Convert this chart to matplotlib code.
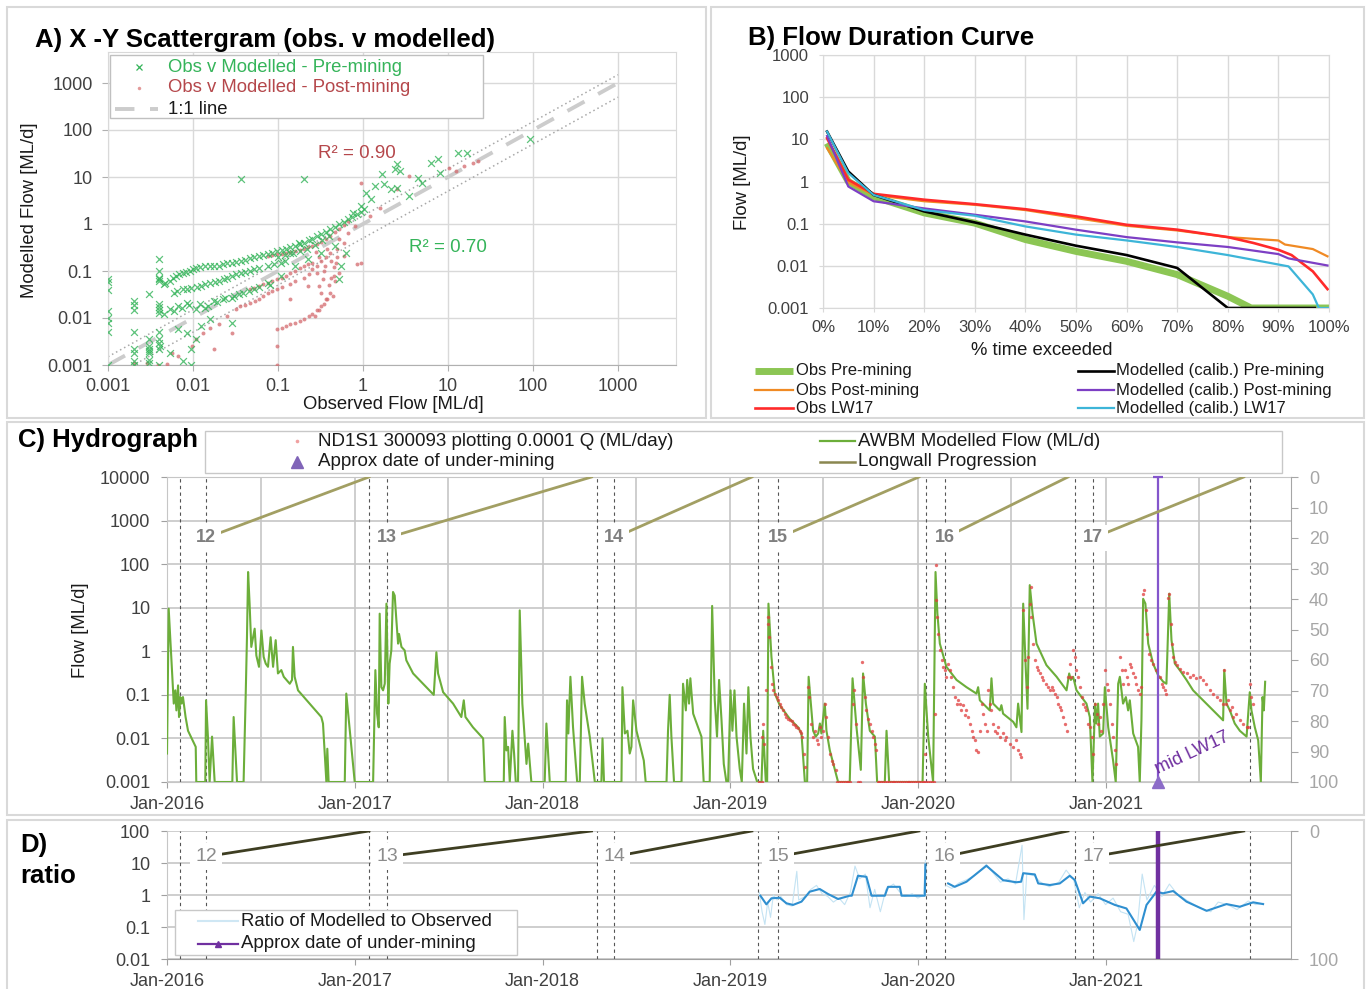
import datetime as dt
import numpy as np
import matplotlib
matplotlib.use("Agg")
import matplotlib.pyplot as plt
import matplotlib.dates as mdates
from matplotlib.lines import Line2D
from matplotlib.patches import Rectangle
from matplotlib.ticker import FixedLocator, FuncFormatter, NullLocator

plt.rcParams["font.family"] = ["Liberation Sans", "DejaVu Sans"]

# ------------------------------------------------------------------
# A) observed vs modelled daily flow (ML/d)
# ------------------------------------------------------------------
pre_obs = [0.001, 0.001, 0.001, 0.001, 0.001, 0.001, 0.001, 0.001,
           0.002, 0.002, 0.002, 0.002, 0.002, 0.002, 0.002, 0.002,
           0.003, 0.003, 0.003, 0.003, 0.003, 0.003, 0.003, 0.003,
           0.004, 0.004, 0.004, 0.004, 0.004, 0.004, 0.004, 0.004, 0.004,
           0.004, 0.004, 0.004, 0.004, 0.004,
           0.0047, 0.0053, 0.0063, 0.0076, 0.0091, 0.0109, 0.0139, 0.0177, 0.0225, 0.0287,
           0.0366, 0.0466, 0.0594, 0.0757, 0.0964, 0.123, 0.157, 0.20, 0.254, 0.324,
           0.413, 0.526, 0.67, 0.855, 1.03,
           0.0045, 0.0058, 0.0068, 0.0083, 0.0100, 0.012, 0.016, 0.020, 0.025, 0.032,
           0.041, 0.052, 0.067, 0.085, 0.11, 0.14, 0.18, 0.23, 0.29, 0.37,
           0.47, 0.60, 0.75, 0.95,
           0.10, 0.12, 0.15, 0.18, 0.22, 0.27, 0.33, 0.40,
           0.0059, 0.0076, 0.0096, 0.0123, 0.0157, 0.020, 0.0254, 0.0324, 0.0413, 0.0526,
           0.0757, 0.109, 0.139, 0.177,
           0.0065, 0.0085, 0.011, 0.014, 0.018, 0.023, 0.029, 0.037, 0.047, 0.060,
           0.090, 0.120,
           0.0053, 0.0067, 0.0086, 0.0109, 0.0139, 0.0177, 0.0225, 0.0287, 0.0388, 0.0526,
           0.0757, 0.109, 0.157, 0.225, 0.324, 0.466,
           0.0045, 0.0060, 0.0075, 0.0090, 0.012, 0.015, 0.019, 0.024, 0.030, 0.035,
           0.045, 0.060, 0.080,
           0.0067, 0.0086, 0.0109, 0.0096, 0.0076, 0.0053, 0.0041, 0.0123, 0.0157, 0.0287,
           0.0096, 0.558, 0.526, 0.63,
           0.76, 0.96, 1.09, 1.23, 1.39, 1.66, 1.77, 2.12, 2.39, 2.54, 2.70, 2.54, 3.44,
           4.38, 4.95, 6.3, 7.57, 8.0, 13.0, 16.6, 91, 0.0366, 0.2]
pre_mod = [0.001, 0.005, 0.008, 0.01, 0.014, 0.04, 0.057, 0.066,
           0.001, 0.0012, 0.0018, 0.0022, 0.005, 0.015, 0.019, 0.023,
           0.032, 0.0025, 0.0018, 0.0013, 0.0035, 0.0022, 0.002, 0.0011,
           0.18, 0.1, 0.066, 0.015, 0.013, 0.005, 0.001, 0.0022, 0.003,
           0.06, 0.07, 0.017, 0.02, 0.0035,
           0.0565, 0.0612, 0.078, 0.092, 0.10, 0.118, 0.128, 0.128, 0.139, 0.150,
           0.163, 0.192, 0.208, 0.226, 0.266, 0.299, 0.34, 0.40, 0.49, 0.60,
           0.77, 0.98, 1.26, 1.6, 2.05,
           0.052, 0.070, 0.085, 0.095, 0.11, 0.12, 0.125, 0.13, 0.145, 0.155,
           0.175, 0.20, 0.215, 0.24, 0.28, 0.32, 0.37, 0.45, 0.55, 0.68,
           0.88, 1.1, 1.4, 1.8,
           0.20, 0.22, 0.24, 0.26, 0.30, 0.36, 0.45, 0.55,
           0.0346, 0.0407, 0.0442, 0.048, 0.0565, 0.0612, 0.0721, 0.0849, 0.0953, 0.108,
           0.128, 0.150, 0.245, 0.40,
           0.038, 0.042, 0.046, 0.052, 0.058, 0.066, 0.078, 0.090, 0.10, 0.115,
           0.14, 0.16,
           0.0153, 0.018, 0.0212, 0.0153, 0.0166, 0.023, 0.0249, 0.0271, 0.0346, 0.0407,
           0.0565, 0.078, 0.128, 0.177, 0.245, 0.34,
           0.012, 0.014, 0.016, 0.019, 0.020, 0.018, 0.022, 0.026, 0.030, 0.032,
           0.037, 0.045, 0.050,
           0.0057, 0.0049, 0.0035, 0.0022, 0.0012, 0.0018, 0.0025, 0.0068, 0.0094, 0.008,
           0.001, 0.128, 0.066, 0.245,
           1.74, 2.4, 4.6, 3.35, 6.4, 11.4, 7.0, 5.5, 14.6, 18.6, 13.4, 5.9, 3.9,
           9.7, 7.6, 20.2, 23.8, 12.4, 33, 32, 63, 8.9, 8.9]

post_obs = [0.002, 0.00287, 0.0039, 0.005, 0.0056, 0.0067, 0.00964, 0.0109, 0.0131, 0.0157,
            0.020, 0.0254, 0.0324, 0.0466, 0.0594, 0.0757, 0.0964, 0.139, 0.20, 0.254,
            0.324, 0.413, 0.526, 0.67,
            0.0757, 0.0964, 0.123, 0.157, 0.20, 0.254, 0.324, 0.413, 0.526, 0.67,
            0.085, 0.11, 0.14, 0.18, 0.225, 0.29, 0.37, 0.47, 0.60,
            0.0964, 0.123, 0.157, 0.20, 0.254, 0.324, 0.413, 0.526, 0.59,
            0.11, 0.14, 0.18, 0.23, 0.29, 0.37, 0.47,
            0.0466, 0.0594, 0.0757, 0.0964, 0.123, 0.157, 0.20, 0.254, 0.288, 0.305,
            0.324, 0.34, 0.36, 0.227, 0.139, 0.0287, 0.0177,
            0.052, 0.067, 0.085, 0.11, 0.14, 0.18, 0.225,
            0.036, 0.041, 0.053, 0.067, 0.085, 0.11, 0.16, 0.23, 0.29, 0.37,
            0.40, 0.45, 0.48, 0.50, 0.44, 0.38, 0.30, 0.27, 0.35, 0.42,
            0.30, 0.38, 0.45, 0.50, 0.42, 0.35, 0.28, 0.80, 1.20, 0.60,
            0.96, 0.96, 0.855, 0.0964, 0.0964, 2.54, 3.44, 10.2, 12.3, 15.6, 19.9, 22.3, 1.57]
post_mod = [0.00112, 0.00112, 0.001, 0.00103, 0.0018, 0.00155, 0.0025, 0.0035, 0.0049, 0.0062,
            0.0073, 0.011, 0.0153, 0.0212, 0.0249, 0.0346, 0.0407, 0.052, 0.0721, 0.108,
            0.163, 0.245, 0.47, 0.65,
            0.208, 0.226, 0.245, 0.267, 0.30, 0.34, 0.414, 0.556, 0.77, 1.16,
            0.215, 0.235, 0.255, 0.285, 0.32, 0.38, 0.48, 0.66, 0.95,
            0.0057, 0.0068, 0.008, 0.0094, 0.012, 0.018, 0.0346, 0.092, 0.208,
            0.0062, 0.0073, 0.0087, 0.011, 0.015, 0.025, 0.06,
            0.0407, 0.048, 0.0565, 0.0665, 0.078, 0.10, 0.128, 0.15, 0.092, 0.048,
            0.0346, 0.066, 0.128, 0.048, 0.025, 0.0049, 0.0022,
            0.044, 0.052, 0.061, 0.072, 0.09, 0.115, 0.14,
            0.018, 0.019, 0.023, 0.030, 0.038, 0.045, 0.060, 0.085, 0.13, 0.20,
            0.05, 0.08, 0.15, 0.20, 0.03, 0.025, 0.015, 0.011, 0.10, 0.16,
            0.20, 0.30, 0.12, 0.30, 0.07, 0.02, 0.25, 0.90, 1.50, 0.40,
            7.6, 0.15, 0.139, 0.0025, 0.001, 5.65, 10.5, 15.8, 13.4, 17.2, 20.2, 21.9, 2.18]

one_to_one = [0.001, 1000]
r2_post_label = "R\u00b2 = 0.90"
r2_pre_label = "R\u00b2 = 0.70"

# ------------------------------------------------------------------
# B) flow duration curves (% of time exceeded, ML/d)
# ------------------------------------------------------------------
fdc_obs_pre_pct = [0.8, 5, 10, 20, 30, 40, 50, 60, 70, 80, 84.6, 100]
fdc_obs_pre = [8.1, 1.0, 0.44, 0.18, 0.103, 0.042, 0.022, 0.0128, 0.0062, 0.0019, 0.001, 0.001]
fdc_obs_post_pct = [0.8, 5, 10, 20, 30, 40, 50, 60, 70, 80, 90, 91.3, 96.8, 99.7]
fdc_obs_post = [6.2, 0.95, 0.48, 0.34, 0.28, 0.21, 0.136, 0.089, 0.069, 0.048, 0.040, 0.032, 0.025, 0.0168]
fdc_obs_lw17_pct = [0.8, 5, 10, 20, 30, 40, 50, 60, 70, 80, 85, 90, 92.6, 96.8, 99.7]
fdc_obs_lw17 = [10.6, 1.1, 0.51, 0.37, 0.29, 0.22, 0.149, 0.094, 0.072, 0.048, 0.035, 0.024, 0.018, 0.0074, 0.0028]
fdc_mod_pre_pct = [0.8, 5, 10, 20, 30, 40, 50, 60, 70, 80, 97.2]
fdc_mod_pre = [15.3, 1.73, 0.48, 0.195, 0.107, 0.055, 0.030, 0.018, 0.0089, 0.001, 0.001]
fdc_mod_post_pct = [0.8, 5, 10, 20, 30, 40, 50, 60, 70, 80, 90, 92, 99.7]
fdc_mod_post = [12, 0.76, 0.34, 0.23, 0.163, 0.113, 0.072, 0.048, 0.036, 0.028, 0.019, 0.015, 0.0102]
fdc_mod_lw17_pct = [0.8, 5, 10, 20, 30, 40, 50, 60, 70, 80, 92, 96.8, 98, 100]
fdc_mod_lw17 = [15.3, 1.58, 0.48, 0.21, 0.154, 0.086, 0.055, 0.040, 0.028, 0.018, 0.0097, 0.0021, 0.001, 0.001]

# ------------------------------------------------------------------
# C) hydrograph: (decimal year, ML/d); zero flow is shown at 0.001
# ------------------------------------------------------------------
awbm_flow = [
    (2016.000, 0.0045), (2016.009, 9.5), (2016.023, 0.74), (2016.036, 0.063), (2016.044, 0.127),
    (2016.050, 0.044), (2016.059, 0.165), (2016.064, 0.031), (2016.071, 0.089), (2016.078, 0.063),
    (2016.085, 0.089), (2016.099, 0.031), (2016.112, 0.015), (2016.153, 0.0064), (2016.156, 0.001),
    (2016.204, 0.001), (2016.208, 0.075), (2016.218, 0.011), (2016.227, 0.001), (2016.240, 0.011),
    (2016.254, 0.001), (2016.348, 0.001), (2016.355, 0.031), (2016.373, 0.001), (2016.408, 0.001),
    (2016.414, 0.011), (2016.419, 0.089), (2016.426, 2.1), (2016.432, 66), (2016.440, 12.4),
    (2016.449, 1.26), (2016.467, 3.3), (2016.476, 0.8), (2016.490, 0.44), (2016.503, 3.0),
    (2016.515, 0.74), (2016.526, 0.52), (2016.538, 0.44), (2016.552, 2.1), (2016.565, 0.44),
    (2016.579, 1.8), (2016.591, 0.31), (2016.609, 0.37), (2016.622, 0.26), (2016.654, 0.18),
    (2016.666, 0.22), (2016.671, 1.26), (2016.680, 0.26), (2016.698, 0.127), (2016.760, 0.063),
    (2016.822, 0.031), (2016.831, 0.022), (2016.849, 0.001), (2016.854, 0.0058), (2016.861, 0.001),
    (2016.947, 0.001), (2016.955, 0.107), (2016.977, 0.011), (2017.000, 0.001), (2017.098, 0.001),
    (2017.103, 0.011), (2017.110, 0.37), (2017.119, 0.037), (2017.128, 0.018), (2017.133, 7.3),
    (2017.142, 0.15), (2017.151, 0.127), (2017.160, 0.18), (2017.169, 12.4), (2017.179, 0.063),
    (2017.186, 0.52), (2017.195, 1.05), (2017.204, 23), (2017.213, 19), (2017.222, 5.1),
    (2017.231, 1.5), (2017.236, 2.5), (2017.249, 1.26), (2017.266, 1.05), (2017.275, 0.62),
    (2017.311, 0.31), (2017.382, 0.15), (2017.421, 0.10), (2017.435, 0.95), (2017.444, 0.31),
    (2017.471, 0.115), (2017.524, 0.063), (2017.568, 0.031), (2017.581, 0.075), (2017.590, 0.031),
    (2017.630, 0.018), (2017.684, 0.010), (2017.693, 0.001),
    (2017.794, 0.001), (2017.799, 0.031), (2017.808, 0.0053), (2017.817, 0.0064), (2017.826, 0.001),
    (2017.840, 0.015), (2017.849, 0.0045), (2017.858, 0.001), (2017.870, 0.001), (2017.879, 8.7),
    (2017.893, 0.063), (2017.915, 0.0026), (2017.924, 0.0076), (2017.941, 0.001), (2018.012, 0.001),
    (2018.021, 0.022), (2018.039, 0.001), (2018.124, 0.001), (2018.131, 0.075), (2018.138, 0.013),
    (2018.149, 0.26), (2018.163, 0.018), (2018.185, 0.001), (2018.199, 0.001), (2018.211, 0.26),
    (2018.225, 0.063), (2018.252, 0.011), (2018.279, 0.001), (2018.314, 0.001), (2018.320, 0.010),
    (2018.328, 0.001), (2018.421, 0.001), (2018.426, 0.15), (2018.439, 0.013), (2018.453, 0.015),
    (2018.465, 0.0045), (2018.474, 0.0064), (2018.483, 0.075), (2018.501, 0.015), (2018.540, 0.0031),
    (2018.550, 0.001), (2018.661, 0.001), (2018.669, 0.015), (2018.678, 0.10), (2018.687, 0.011),
    (2018.701, 0.001), (2018.741, 0.001), (2018.749, 0.18), (2018.764, 0.044), (2018.771, 0.22),
    (2018.781, 0.063), (2018.788, 0.24), (2018.803, 0.037), (2018.847, 0.011), (2018.859, 0.001),
    (2018.891, 0.001), (2018.904, 11), (2018.918, 0.075), (2018.930, 0.011), (2018.941, 0.22),
    (2018.954, 0.026), (2018.966, 0.0026), (2018.980, 0.001), (2018.989, 0.001), (2019.002, 0.127),
    (2019.012, 0.015), (2019.023, 0.127), (2019.034, 0.011), (2019.051, 0.002), (2019.062, 0.001),
    (2019.074, 0.063), (2019.087, 0.0045), (2019.097, 0.15), (2019.108, 0.011), (2019.122, 0.002),
    (2019.144, 0.001), (2019.167, 0.001), (2019.176, 0.015), (2019.190, 0.001), (2019.197, 0.001),
    (2019.204, 12.4), (2019.220, 0.74), (2019.238, 0.107), (2019.264, 0.058), (2019.318, 0.028),
    (2019.362, 0.018), (2019.380, 0.013), (2019.398, 0.001), (2019.410, 0.001),
    (2019.418, 0.26), (2019.430, 0.063), (2019.442, 0.015), (2019.456, 0.011), (2019.469, 0.013),
    (2019.478, 0.022), (2019.486, 0.013), (2019.504, 0.063), (2019.513, 0.015), (2019.531, 0.0053),
    (2019.575, 0.001), (2019.637, 0.001), (2019.652, 0.24), (2019.673, 0.018), (2019.696, 0.0019),
    (2019.708, 0.31), (2019.723, 0.063), (2019.744, 0.015), (2019.771, 0.011), (2019.783, 0.001),
    (2019.824, 0.001), (2019.833, 0.015), (2019.847, 0.001), (2020.025, 0.001), (2020.037, 0.18),
    (2020.055, 0.011), (2020.081, 0.001), (2020.094, 66), (2020.104, 7.3), (2020.117, 1.5),
    (2020.152, 0.44), (2020.206, 0.22), (2020.259, 0.15), (2020.312, 0.107), (2020.321, 0.15),
    (2020.330, 0.075), (2020.383, 0.044), (2020.392, 0.24), (2020.401, 0.063), (2020.437, 0.044),
    (2020.445, 0.058), (2020.454, 0.037), (2020.508, 0.024), (2020.525, 0.018), (2020.534, 0.063),
    (2020.552, 0.014), (2020.561, 12.4), (2020.575, 0.37), (2020.584, 0.048), (2020.596, 33),
    (2020.611, 7.3), (2020.632, 1.5), (2020.685, 0.48), (2020.739, 0.26), (2020.792, 0.127),
    (2020.806, 0.31), (2020.815, 0.22), (2020.827, 0.26), (2020.845, 0.127), (2020.898, 0.063),
    (2020.916, 0.031),
    (2020.930, 0.001), (2020.944, 0.063), (2020.951, 0.022), (2020.960, 0.063), (2020.969, 0.011),
    (2020.987, 0.013), (2020.996, 0.15), (2021.014, 0.018), (2021.040, 0.0031), (2021.054, 0.001),
    (2021.067, 0.18), (2021.076, 0.26), (2021.093, 0.063), (2021.108, 0.089), (2021.120, 0.044),
    (2021.129, 0.075), (2021.147, 0.013), (2021.173, 0.0064), (2021.182, 0.001), (2021.191, 0.026),
    (2021.200, 16), (2021.212, 12.4), (2021.227, 1.5), (2021.253, 0.52), (2021.280, 0.28),
    (2021.307, 0.2), (2021.324, 0.18), (2021.339, 21), (2021.351, 1.8), (2021.369, 0.52),
    (2021.395, 0.37), (2021.431, 0.22), (2021.466, 0.127), (2021.502, 0.089), (2021.555, 0.053),
    (2021.626, 0.026), (2021.632, 0.37), (2021.644, 0.063), (2021.662, 0.044), (2021.688, 0.022),
    (2021.715, 0.015), (2021.751, 0.011), (2021.768, 0.115), (2021.777, 0.044), (2021.795, 0.018),
    (2021.813, 0.009), (2021.827, 0.001), (2021.836, 0.089), (2021.843, 0.044), (2021.850, 0.2)]

gauge_flow = [
    (2019.154, 0.001), (2019.167, 0.001), (2019.172, 0.011), (2019.176, 0.022), (2019.179, 0.0076),
    (2019.190, 0.127), (2019.200, 4.3), (2019.204, 6.1), (2019.208, 2.1), (2019.215, 0.44),
    (2019.222, 0.18), (2019.229, 0.127), (2019.238, 0.107), (2019.247, 0.089), (2019.256, 0.075),
    (2019.264, 0.063), (2019.273, 0.053), (2019.282, 0.044), (2019.291, 0.037), (2019.300, 0.031),
    (2019.309, 0.028), (2019.318, 0.027), (2019.327, 0.025), (2019.335, 0.022), (2019.344, 0.020),
    (2019.353, 0.018), (2019.362, 0.017), (2019.371, 0.015), (2019.380, 0.013), (2019.385, 0.011),
    (2019.392, 0.0045), (2019.398, 0.0022),
    (2019.414, 0.15), (2019.421, 0.089), (2019.433, 0.022), (2019.442, 0.011), (2019.451, 0.015),
    (2019.460, 0.009), (2019.469, 0.0076), (2019.478, 0.018), (2019.486, 0.011), (2019.495, 0.015),
    (2019.504, 0.063), (2019.510, 0.031), (2019.522, 0.011), (2019.531, 0.0045), (2019.540, 0.0031),
    (2019.549, 0.0026), (2019.563, 0.0019),
    (2019.570, 0.001), (2019.580, 0.001), (2019.590, 0.001), (2019.600, 0.001), (2019.610, 0.001),
    (2019.620, 0.001), (2019.630, 0.001), (2019.640, 0.001),
    (2019.652, 0.063), (2019.659, 0.127), (2019.673, 0.022), (2019.682, 0.001), (2019.691, 0.001),
    (2019.700, 0.57), (2019.708, 0.26), (2019.717, 0.089), (2019.726, 0.044), (2019.735, 0.028),
    (2019.744, 0.022), (2019.753, 0.015), (2019.762, 0.011), (2019.771, 0.0076), (2019.776, 0.0053),
    (2019.785, 0.001), (2019.795, 0.001), (2019.805, 0.001), (2019.815, 0.001), (2019.825, 0.001),
    (2019.835, 0.001), (2019.845, 0.001), (2019.855, 0.001), (2019.865, 0.001), (2019.875, 0.001),
    (2019.885, 0.001), (2019.895, 0.001), (2019.905, 0.001), (2019.915, 0.001), (2019.925, 0.001),
    (2019.935, 0.001), (2019.945, 0.001), (2019.955, 0.001), (2019.965, 0.001), (2019.975, 0.001),
    (2019.985, 0.001), (2019.995, 0.001), (2020.005, 0.001), (2020.015, 0.001), (2020.025, 0.001),
    (2020.035, 0.001), (2020.045, 0.001), (2020.055, 0.001), (2020.065, 0.001), (2020.075, 0.001),
    (2020.085, 0.001),
    (2020.037, 0.0045), (2020.090, 0.037), (2020.096, 14.8), (2020.099, 94), (2020.103, 6.1),
    (2020.108, 2.5), (2020.117, 1.05), (2020.126, 0.62), (2020.135, 0.44), (2020.144, 0.37),
    (2020.152, 0.26), (2020.161, 0.52), (2020.170, 0.37), (2020.179, 0.26), (2020.188, 0.15),
    (2020.197, 0.089), (2020.206, 0.063), (2020.215, 0.075), (2020.224, 0.063), (2020.232, 0.044),
    (2020.241, 0.058), (2020.250, 0.034), (2020.259, 0.044), (2020.268, 0.031), (2020.277, 0.022),
    (2020.286, 0.015), (2020.295, 0.011), (2020.303, 0.009), (2020.312, 0.0053), (2020.321, 0.005),
    (2020.330, 0.015), (2020.339, 0.063), (2020.348, 0.037), (2020.357, 0.022), (2020.366, 0.015),
    (2020.374, 0.127), (2020.383, 0.063), (2020.392, 0.044), (2020.401, 0.022), (2020.410, 0.015),
    (2020.419, 0.013), (2020.428, 0.018), (2020.437, 0.011), (2020.454, 0.013), (2020.463, 0.009),
    (2020.472, 0.011), (2020.490, 0.0076), (2020.508, 0.0064), (2020.525, 0.009), (2020.534, 0.0053),
    (2020.543, 0.0045), (2020.552, 0.0037), (2020.561, 8.7), (2020.570, 0.62), (2020.579, 0.15),
    (2020.588, 0.74), (2020.596, 12.4), (2020.600, 30), (2020.605, 6.1), (2020.614, 1.5),
    (2020.623, 0.62), (2020.632, 0.44), (2020.641, 0.37), (2020.650, 0.31), (2020.659, 0.26),
    (2020.667, 0.22), (2020.685, 0.18), (2020.694, 0.15), (2020.703, 0.127), (2020.712, 0.15),
    (2020.721, 0.127), (2020.730, 0.107), (2020.739, 0.089), (2020.747, 0.063), (2020.756, 0.053),
    (2020.765, 0.044), (2020.774, 0.031), (2020.783, 0.022), (2020.792, 0.015), (2020.801, 0.26),
    (2020.810, 0.52), (2020.818, 0.26), (2020.827, 1.05), (2020.836, 0.74), (2020.845, 0.37),
    (2020.854, 0.26), (2020.863, 0.15), (2020.872, 0.089), (2020.881, 0.063), (2020.890, 0.053),
    (2020.898, 0.044), (2020.907, 0.022), (2020.916, 0.018), (2020.925, 0.011), (2020.934, 0.0045),
    (2020.943, 0.063), (2020.952, 0.037), (2020.961, 0.022), (2020.969, 0.031), (2020.978, 0.015),
    (2020.987, 0.063), (2020.996, 0.37), (2021.005, 0.18), (2021.014, 0.127), (2021.023, 0.063),
    (2021.032, 0.022), (2021.041, 0.011), (2021.049, 0.0053), (2021.058, 0.0026), (2021.076, 0.74),
    (2021.085, 0.37), (2021.094, 0.18), (2021.103, 0.37), (2021.112, 0.26), (2021.121, 0.18),
    (2021.129, 0.52), (2021.138, 0.44), (2021.147, 0.31), (2021.156, 0.26), (2021.164, 0.18),
    (2021.173, 0.127), (2021.182, 0.107), (2021.191, 0.15), (2021.200, 21), (2021.205, 25),
    (2021.214, 8.7), (2021.221, 2.5), (2021.232, 0.88), (2021.244, 0.62), (2021.253, 0.52),
    (2021.271, 0.37), (2021.289, 0.26), (2021.298, 0.18), (2021.307, 0.15), (2021.315, 0.127),
    (2021.324, 0.107), (2021.333, 17), (2021.339, 21), (2021.346, 4.3), (2021.353, 1.5),
    (2021.360, 0.74), (2021.369, 0.57), (2021.378, 0.48), (2021.395, 0.40), (2021.413, 0.34),
    (2021.431, 0.31), (2021.449, 0.26), (2021.466, 0.28), (2021.484, 0.24), (2021.502, 0.26),
    (2021.520, 0.22), (2021.537, 0.18), (2021.555, 0.127), (2021.573, 0.107), (2021.591, 0.089),
    (2021.609, 0.075), (2021.626, 0.063), (2021.632, 0.37), (2021.644, 0.063), (2021.653, 0.075),
    (2021.662, 0.044), (2021.671, 0.053), (2021.680, 0.031), (2021.697, 0.037), (2021.715, 0.026),
    (2021.733, 0.022), (2021.751, 0.018), (2021.759, 0.018), (2021.768, 0.18), (2021.777, 0.089),
    (2021.786, 0.063)]

# longwall panels: extraction start / finish and progression (%)
lw_names = ["12", "13", "14", "15", "16", "17"]
lw_start = ["2016-03-17", "2017-03-04", "2018-05-20", "2019-04-04", "2020-02-22", "2020-12-07"]
lw_finish = ["2017-01-28", "2018-04-06", "2019-02-12", "2020-01-03", "2020-10-19", "2021-09-26"]
lw_start_pct = [20, 20, 20, 20, 20, 20]
lw_finish_pct = [0, 0, 0, 0, 0, 0]
lw_boundaries = ["2016-01-27", "2016-03-17", "2017-01-29", "2017-03-04", "2018-04-16",
                 "2018-05-20", "2019-02-24", "2019-04-04", "2020-01-17", "2020-02-22",
                 "2020-11-01", "2020-12-07", "2021-10-08"]
under_mining_date = "2021-04-13"

# ------------------------------------------------------------------
# D) ratio of modelled to observed flow (decimal year, ratio)
# ------------------------------------------------------------------
ratio_daily = [
    (2019.155, 1.2), (2019.170, 0.3), (2019.185, 0.12), (2019.200, 0.6), (2019.215, 0.2),
    (2019.230, 1.0), (2019.250, 0.7), (2019.270, 0.9), (2019.300, 0.5), (2019.330, 0.45),
    (2019.355, 5.5), (2019.365, 0.7), (2019.400, 0.9), (2019.430, 1.5), (2019.460, 2.0),
    (2019.490, 1.1), (2019.520, 0.9), (2019.550, 0.6), (2019.580, 0.8), (2019.610, 0.5),
    (2019.640, 1.2), (2019.665, 8.0), (2019.690, 3.2), (2019.720, 4.5), (2019.745, 0.4),
    (2019.770, 1.5), (2019.800, 0.3), (2019.830, 1.5), (2019.870, 2.2), (2019.900, 1.3),
    (2019.930, 0.9), (2019.970, 1.1), (2020.000, 0.8), (2020.030, 1.0), (2020.040, 12),
    (2020.100, np.nan),
    (2020.150, 2.0), (2020.180, 1.6), (2020.220, 2.4), (2020.260, 3.0), (2020.300, 4.0),
    (2020.340, 6.5), (2020.365, 9.0), (2020.400, 5.0), (2020.440, 2.5), (2020.480, 3.2),
    (2020.520, 2.2), (2020.555, 36), (2020.565, 0.17), (2020.580, 4.5), (2020.620, 4.0),
    (2020.650, 2.6), (2020.700, 1.8), (2020.750, 2.5), (2020.790, 6.0), (2020.830, 3.0),
    (2020.860, 0.4), (2020.890, 1.2), (2020.920, 0.6), (2020.960, 1.1), (2021.000, 0.5),
    (2021.040, 0.8), (2021.080, 0.3), (2021.120, 0.25), (2021.150, 0.035), (2021.170, 0.12),
    (2021.195, 4.5), (2021.220, 0.7), (2021.260, 2.0), (2021.300, 0.9), (2021.340, 2.2),
    (2021.380, 1.1), (2021.430, 0.7), (2021.500, 0.4), (2021.560, 0.3), (2021.600, 0.6),
    (2021.650, 0.5), (2021.700, 0.35), (2021.760, 0.65), (2021.800, 0.5), (2021.840, 0.55)]

ratio_smoothed = [
    (2019.161, 0.95), (2019.193, 0.51), (2019.220, 0.79), (2019.264, 0.82), (2019.300, 0.55),
    (2019.335, 0.49), (2019.380, 0.62), (2019.424, 1.27), (2019.477, 1.54), (2019.522, 1.07),
    (2019.575, 0.75), (2019.637, 0.95), (2019.648, 0.95), (2019.681, 4.0), (2019.726, 3.7),
    (2019.753, 0.95), (2019.824, 0.95), (2019.841, 1.8), (2019.904, 1.8), (2019.913, 0.95),
    (2020.037, 0.95), (2020.040, 9.0), (2020.100, np.nan),
    (2020.161, 2.3), (2020.196, 1.8), (2020.259, 2.6), (2020.365, 8.2), (2020.454, 2.9),
    (2020.525, 2.5), (2020.550, 2.6), (2020.561, 4.8), (2020.623, 4.4), (2020.641, 2.3),
    (2020.703, 2.05), (2020.756, 2.3), (2020.809, 4.0), (2020.836, 2.94), (2020.880, 0.55),
    (2020.916, 0.89), (2020.969, 0.79), (2021.049, 0.49), (2021.111, 0.38), (2021.182, 0.081),
    (2021.218, 0.49), (2021.271, 1.27), (2021.306, 1.13), (2021.360, 1.33), (2021.431, 0.62),
    (2021.538, 0.32), (2021.644, 0.52), (2021.715, 0.43), (2021.786, 0.59), (2021.839, 0.52)]

# ------------------------------------------------------------------
# colours
# ------------------------------------------------------------------
C_PRE = "#35b45a"
C_POST = "#b5474b"
C_MODEL = "#6cae3a"
C_OBS = "#e03c3c"
C_LW = "#a29f63"
C_LW_D = "#3e3e22"
C_PURPLE = "#8456cc"
C_PURPLE_D = "#7030a0"
C_GRID = "#d9d9d9"
C_GRID_C = "#c6c6c6"
C_TICK = "#404040"
C_RIGHT = "#a6a6a6"

W, H = 1367, 989
fig = plt.figure(figsize=(W / 100, H / 100), dpi=100)


def rect(x0, y0, x1, y1):
    """Axes rectangle from pixel edges (origin at top-left)."""
    return [x0 / W, 1 - y1 / H, (x1 - x0) / W, (y1 - y0) / H]


def frame(x0, y0, x1, y1, fill=False, ec=C_GRID, lw=1.5, z=1):
    fig.add_artist(Rectangle((x0 / W, 1 - y1 / H), (x1 - x0) / W, (y1 - y0) / H,
                             transform=fig.transFigure, fill=fill, fc="white",
                             ec=ec, lw=lw, zorder=z))


def key_line(x0, x1, y, **kw):
    fig.add_artist(Line2D([x0 / W, x1 / W], [1 - y / H, 1 - y / H],
                          transform=fig.transFigure, zorder=6, **kw))


def key_mark(x, y, **kw):
    fig.add_artist(Line2D([x / W], [1 - y / H], transform=fig.transFigure,
                          ls="none", zorder=6, **kw))


def key_text(x, y, s, size, color="#1a1a1a", **kw):
    fig.text(x / W, 1 - y / H, s, ha="left", va="center", fontsize=size,
             color=color, zorder=7, **kw)


def yrs(values):
    base = mdates.date2num(dt.datetime(2016, 1, 1))
    return base + (np.asarray(values, dtype=float) - 2016.0) * 365.25


def days(strings):
    return mdates.datestr2num(strings)


def log_labels(v, _pos):
    return f"{v:g}"


TITLE = 18.5

# panel outlines
frame(7, 7, 706, 418)
frame(711, 7, 1364, 418)
frame(7, 422, 1364, 815)
frame(7, 820, 1364, 1000)

# ================= A) scattergram =================
axA = fig.add_axes(rect(108, 52, 676, 365))
axA.set_xscale("log")
axA.set_yscale("log")
axA.set_xlim(1e-3, 10 ** (-3 + 568 / 85))
axA.set_ylim(1e-3, 10 ** (-3 + 313 / 47))
decA = [1e-3, 1e-2, 1e-1, 1, 10, 100, 1000]
for axis in (axA.xaxis, axA.yaxis):
    axis.set_major_locator(FixedLocator(decA))
    axis.set_minor_locator(NullLocator())
    axis.set_major_formatter(FuncFormatter(log_labels))
axA.grid(True, color=C_GRID, lw=1)
axA.set_axisbelow(True)
for s in axA.spines.values():
    s.set_color(C_GRID)
axA.spines["bottom"].set_color("#b0b0b0")
axA.tick_params(colors="#b0b0b0", labelcolor=C_TICK, labelsize=13, length=4)
axA.tick_params(axis="x", pad=5.5)
axA.tick_params(axis="y", pad=7)

oneline = np.asarray(one_to_one)
axA.plot(oneline, oneline * 1.5, ls=(0, (1, 2)), color="#a8a8a8", lw=1.1)
axA.plot(oneline, oneline * 0.5, ls=(0, (1, 2)), color="#a8a8a8", lw=1.1)
axA.plot(oneline, oneline, ls=(0, (5, 4)), color="#cccccc", lw=2.8)
axA.scatter(post_obs, post_mod, s=8, marker="o", color="#d46a6e", alpha=0.75, lw=0, zorder=3)
axA.scatter(pre_obs, pre_mod, s=24, marker="x", color=C_PRE, alpha=0.8, lw=0.9, zorder=4)
axA.text(0.85, 32, r2_post_label, color=C_POST, fontsize=13.5, ha="center", va="center")
axA.text(10, 0.32, r2_pre_label, color=C_PRE, fontsize=13.5, ha="center", va="center")
axA.set_xlabel("Observed Flow [ML/d]", fontsize=13.3, color="#1a1a1a")
axA.xaxis.set_label_coords(0.502, -0.098)
axA.set_ylabel("Modelled Flow [ML/d]", fontsize=13.3, color="#1a1a1a")
axA.yaxis.set_label_coords(-0.123, 0.495)

fig.text(35 / W, 1 - 40 / H, "A) X -Y Scattergram (obs. v modelled)", fontsize=TITLE,
         fontweight="bold", ha="left", va="center")

frame(110, 55, 483, 118, fill=True, ec="#c0c0c0", lw=1.0, z=5)
key_mark(139, 67, marker="x", ms=5, mew=0.9, color=C_PRE)
key_text(168, 67, "Obs v Modelled - Pre-mining", 13.3, color=C_PRE)
key_mark(139, 88, marker="o", ms=2.5, color="#e39a9a", mec="none")
key_text(168, 88, "Obs v Modelled - Post-mining", 13.3, color=C_POST)
key_line(115, 158, 109, color="#cccccc", lw=2.8, ls=(0, (5, 4)))
key_text(168, 109, "1:1 line", 13.3)

# ================= B) flow duration curve =================
axB = fig.add_axes(rect(823, 55, 1329, 308))
axB.set_yscale("log")
axB.set_xlim(0, 100)
axB.set_ylim(1e-3, 1e3)
axB.yaxis.set_major_locator(FixedLocator([1e-3, 1e-2, 1e-1, 1, 10, 100, 1000]))
axB.yaxis.set_minor_locator(NullLocator())
axB.yaxis.set_major_formatter(FuncFormatter(log_labels))
axB.xaxis.set_major_locator(FixedLocator(list(range(0, 101, 10))))
axB.xaxis.set_major_formatter(FuncFormatter(lambda v, p: f"{v:.0f}%"))
axB.grid(True, color=C_GRID, lw=1)
axB.set_axisbelow(True)
for s in axB.spines.values():
    s.set_color(C_GRID)
axB.tick_params(colors=C_GRID, labelcolor=C_TICK, labelsize=12, length=3)
axB.tick_params(axis="x", pad=5.5)
axB.tick_params(axis="y", pad=7)

axB.plot(fdc_obs_pre_pct, fdc_obs_pre, color="#8cc654", lw=5, solid_capstyle="butt")
axB.plot(fdc_obs_post_pct, fdc_obs_post, color="#f08a24", lw=1.6)
axB.plot(fdc_obs_lw17_pct, fdc_obs_lw17, color="#ff2a2a", lw=1.9)
axB.plot(fdc_mod_pre_pct, fdc_mod_pre, color="#000000", lw=1.9)
axB.plot(fdc_mod_post_pct, fdc_mod_post, color="#7d3fc4", lw=1.6)
axB.plot(fdc_mod_lw17_pct, fdc_mod_lw17, color="#3db5d8", lw=1.6)
axB.set_xlabel("% time exceeded", fontsize=13.3, color="#1a1a1a")
axB.xaxis.set_label_coords(0.433, -0.136)
axB.set_ylabel("Flow [ML/d]", fontsize=13.3, color="#1a1a1a")
axB.yaxis.set_label_coords(-0.142, 0.498)

fig.text(748 / W, 1 - 38 / H, "B) Flow Duration Curve", fontsize=TITLE,
         fontweight="bold", ha="left", va="center")

key_line(755, 793, 371, color="#8cc654", lw=5, solid_capstyle="butt")
key_text(796, 371, "Obs Pre-mining", 12)
key_line(755, 793, 390, color="#f08a24", lw=1.6)
key_text(796, 390, "Obs Post-mining", 12)
key_line(755, 793, 408, color="#ff2a2a", lw=1.9)
key_text(796, 408, "Obs LW17", 12)
key_line(1078, 1114, 371, color="#000000", lw=1.9)
key_text(1116, 371, "Modelled (calib.) Pre-mining", 12)
key_line(1078, 1114, 390, color="#7d3fc4", lw=1.6)
key_text(1116, 390, "Modelled (calib.) Post-mining", 12)
key_line(1078, 1114, 408, color="#3db5d8", lw=1.6)
key_text(1116, 408, "Modelled (calib.) LW17", 12)

# ================= C) hydrograph =================
t_model, q_model = zip(*awbm_flow)
t_gauge, q_gauge = zip(*gauge_flow)
x_lo, x_hi = days(["2016-01-01", "2021-12-27"])
lw_s, lw_f = days(lw_start), days(lw_finish)
bounds = days(lw_boundaries)
um_day = days([under_mining_date])[0]

axC = fig.add_axes(rect(167, 477, 1291, 782))
axC.set_yscale("log")
axC.set_ylim(1e-3, 1e4)
axC.set_xlim(x_lo, x_hi)
axC.yaxis.set_major_locator(FixedLocator([1e-3, 1e-2, 1e-1, 1, 10, 100, 1000, 1e4]))
axC.yaxis.set_minor_locator(NullLocator())
axC.yaxis.set_major_formatter(FuncFormatter(log_labels))
axC.xaxis.set_major_locator(mdates.YearLocator())
axC.xaxis.set_minor_locator(mdates.MonthLocator(bymonth=7))
axC.xaxis.set_major_formatter(mdates.DateFormatter("%b-%Y"))
axC.grid(True, which="both", color=C_GRID_C, lw=1.2)
axC.set_axisbelow(True)
for s in axC.spines.values():
    s.set_color(C_GRID_C)
axC.spines["right"].set_visible(False)
axC.tick_params(which="both", colors="#a0a0a0", labelcolor=C_TICK, labelsize=13, length=4)
axC.tick_params(axis="x", which="minor", length=0)
axC.tick_params(axis="x", pad=6)
axC.tick_params(axis="y", pad=8)
for b in bounds:
    axC.axvline(b, color="#555555", lw=0.8, ls=(0, (3, 3)), zorder=2)
axC.plot(yrs(t_model), q_model, color=C_MODEL, lw=1.5, zorder=3)
axC.plot(yrs(t_gauge), q_gauge, ls="none", marker="o", ms=2.4, color=C_OBS,
         alpha=0.75, mec="none", zorder=4)
axC.vlines(um_day, 1e-3, 1e4, color=C_PURPLE, lw=1.6, zorder=5)
axC.plot([um_day], [1e4], marker="_", ms=7, mew=1.6, color=C_PURPLE, clip_on=False, zorder=6)
axC.plot([um_day], [1e-3], marker="^", ms=9, color="#8c6cc8", clip_on=False, zorder=6)
axC.text(um_day + 2, 1.25e-3, "mid LW17", rotation=25, rotation_mode="anchor",
         ha="left", va="bottom", color=C_PURPLE_D, fontsize=13, zorder=6)
axC.set_ylabel("Flow [ML/d]", fontsize=13.3, color="#1a1a1a")
axC.yaxis.set_label_coords(-0.069, 0.498)

axC2 = axC.twinx()
axC2.set_ylim(100, 0)
axC2.set_yticks(list(range(0, 101, 10)))
for s in axC2.spines.values():
    s.set_visible(False)
axC2.spines["right"].set_visible(True)
axC2.spines["right"].set_color(C_RIGHT)
axC2.tick_params(colors=C_RIGHT, labelcolor=C_RIGHT, labelsize=13, length=5, pad=8)
for name, s, f, ps, pf in zip(lw_names, lw_s, lw_f, lw_start_pct, lw_finish_pct):
    axC2.plot([s, f], [ps, pf], color=C_LW, lw=2.0, zorder=3)
    axC2.text(s, ps, name, color="#7f7f7f", fontsize=13, fontweight="bold",
              ha="center", va="center", zorder=4,
              bbox=dict(boxstyle="square,pad=0.25", fc="white", ec="none"))

fig.text(18 / W, 1 - 440 / H, "C) Hydrograph", fontsize=TITLE, fontweight="bold",
         ha="left", va="center")
frame(205, 431, 1282, 473, fill=True, ec="#c8c8c8", lw=1.0, z=5)
key_mark(297, 441, marker="o", ms=2.6, color="#f0a0a0", mec="none")
key_text(318, 441, "ND1S1 300093 plotting 0.0001 Q (ML/day)", 13.5)
key_mark(297, 462, marker="^", ms=8, color="#8064b8")
key_text(318, 462, "Approx date of under-mining", 13.5)
key_line(820, 855, 441, color=C_MODEL, lw=1.6)
key_text(858, 441, "AWBM Modelled Flow (ML/d)", 13.5)
key_line(820, 855, 462, color="#8a8750", lw=1.8)
key_text(858, 462, "Longwall Progression", 13.5)

# ================= D) ratio =================
t_raw, r_raw = zip(*ratio_daily)
t_sm, r_sm = zip(*ratio_smoothed)
axD = fig.add_axes(rect(167, 831, 1291, 959))
axD.set_yscale("log")
axD.set_ylim(1e-2, 1e2)
axD.set_xlim(x_lo, x_hi)
axD.yaxis.set_major_locator(FixedLocator([1e-2, 1e-1, 1, 10, 100]))
axD.yaxis.set_minor_locator(NullLocator())
axD.yaxis.set_major_formatter(FuncFormatter(log_labels))
axD.xaxis.set_major_locator(mdates.YearLocator())
axD.xaxis.set_major_formatter(mdates.DateFormatter("%b-%Y"))
axD.grid(True, axis="y", color=C_GRID_C, lw=1.2)
axD.set_axisbelow(True)
for s in axD.spines.values():
    s.set_visible(False)
axD.spines["bottom"].set_visible(True)
axD.spines["left"].set_visible(True)
axD.spines["bottom"].set_color("#a0a0a0")
axD.spines["left"].set_color(C_GRID_C)
axD.tick_params(colors="#a0a0a0", labelcolor=C_TICK, labelsize=13, length=4)
axD.tick_params(axis="x", pad=6)
axD.tick_params(axis="y", pad=8)
for b in bounds:
    axD.axvline(b, color="#555555", lw=0.8, ls=(0, (3, 3)), zorder=2)
axD.plot(yrs(t_raw), r_raw, color="#c4e3f3", lw=0.8, zorder=3)
axD.plot(yrs(t_sm), r_sm, color="#2f8fd0", lw=1.5, zorder=4)
axD.vlines(um_day, 1e-2, 1e2, color=C_PURPLE_D, lw=3.2, zorder=5)

axD2 = axD.twinx()
axD2.set_ylim(100, 0)
axD2.set_yticks([0, 100])
for s in axD2.spines.values():
    s.set_visible(False)
axD2.spines["right"].set_visible(True)
axD2.spines["right"].set_color(C_RIGHT)
axD2.tick_params(colors=C_RIGHT, labelcolor=C_RIGHT, labelsize=13, length=5, pad=8)
for name, s, f, ps, pf in zip(lw_names, lw_s, lw_f, lw_start_pct, lw_finish_pct):
    axD2.plot([s, f], [ps, pf], color=C_LW_D, lw=2.0, zorder=3)
    axD2.text(s, ps, name, color="#8c8c8c", fontsize=14, ha="center", va="center",
              zorder=4, bbox=dict(boxstyle="square,pad=0.25", fc="white", ec="none"))

fig.text(20 / W, 1 - 845 / H, "D)", fontsize=TITLE, fontweight="bold", ha="left", va="center")
fig.text(20 / W, 1 - 876 / H, "ratio", fontsize=TITLE, fontweight="bold", ha="left", va="center")
frame(175, 910, 517, 955, fill=True, ec="#c8c8c8", lw=1.0, z=5)
key_line(198, 238, 921, color="#cfe7f4", lw=1.5)
key_text(241, 921, "Ratio of Modelled to Observed", 13.4)
key_line(198, 238, 944, color=C_PURPLE_D, lw=1.6)
key_mark(218, 944, marker="^", ms=5, color=C_PURPLE_D)
key_text(241, 944, "Approx date of under-mining", 13.4)

fig.savefig("out.png", dpi=100)
